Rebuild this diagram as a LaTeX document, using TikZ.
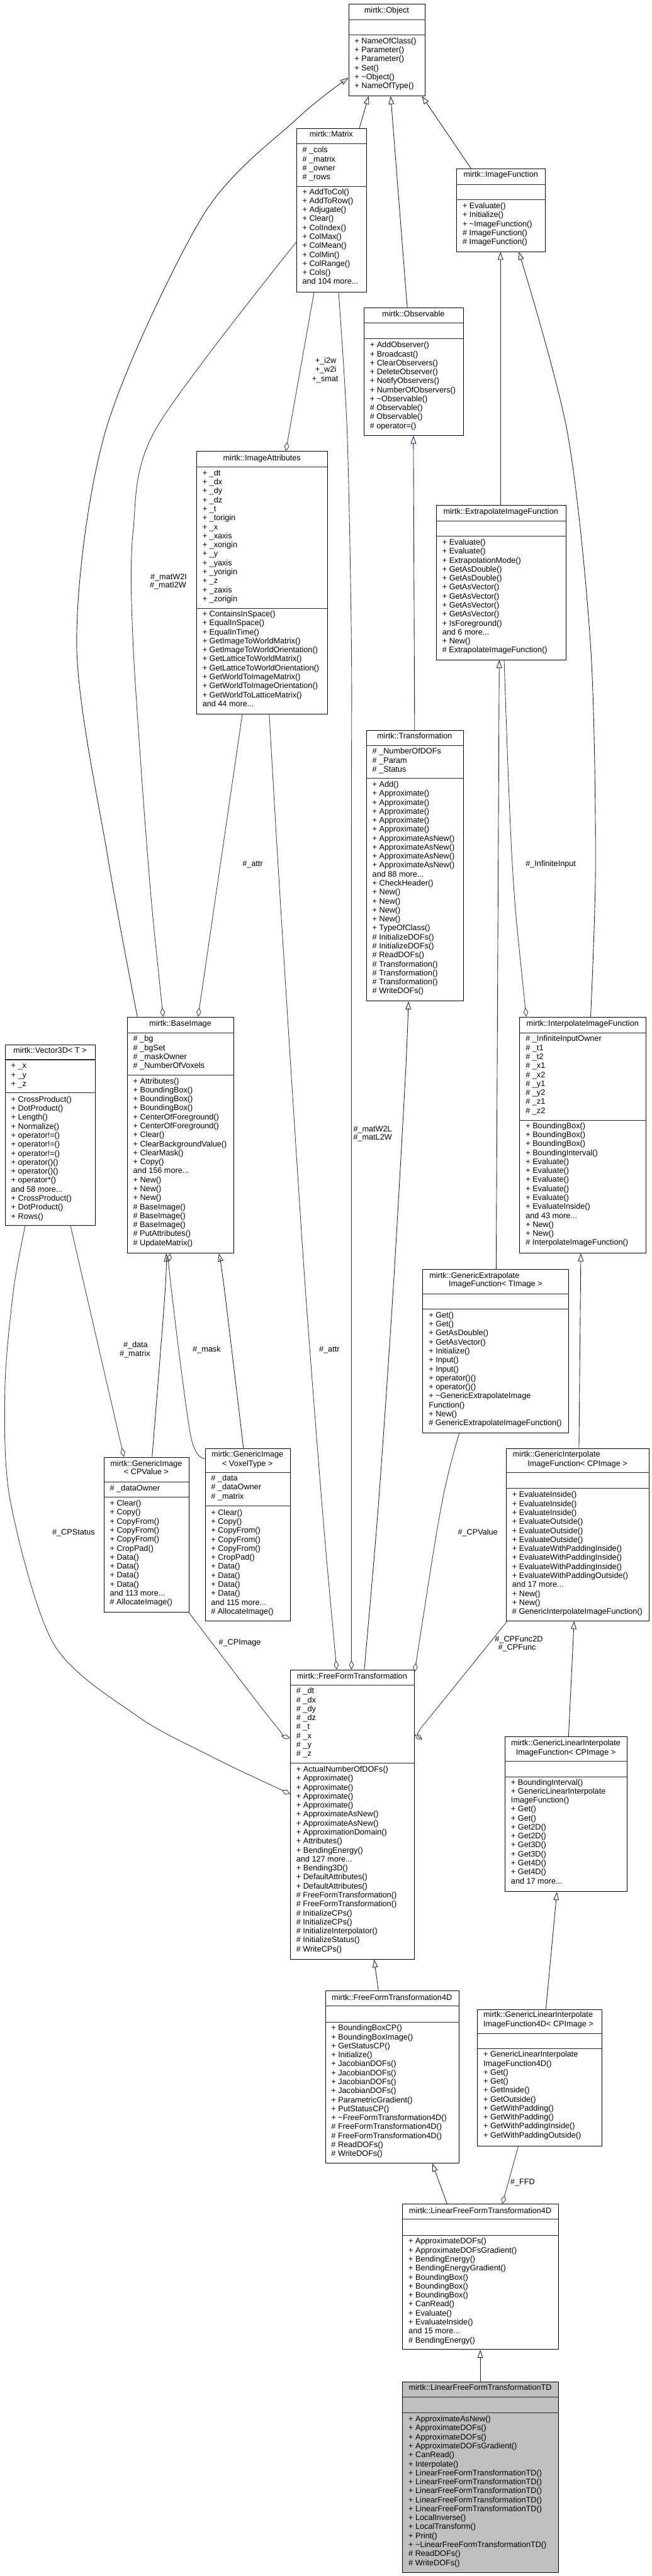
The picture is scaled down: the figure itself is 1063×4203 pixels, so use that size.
\documentclass[tikz,border=0pt]{standalone}
\usepackage{fontspec}
\newfontfamily\dfont{Liberation Sans}
\usetikzlibrary{arrows.meta}
\definecolor{inhblue}{RGB}{25,25,112}
\definecolor{agggray}{RGB}{64,64,64}
\definecolor{leafgray}{RGB}{191,191,191}
\pgfdeclarelayer{back}
\pgfdeclarelayer{bg}
\pgfsetlayers{back,bg,main}
\newcommand\mdots{...}
\newcommand\tl{\textasciitilde}
\newcommand\ubox[6]{\node[cls, fill=#6, minimum width=#4pt, minimum height=#5pt] (#1) at (#2,#3) {};}
\newcommand\usep[2]{\draw[sepl] (#1.west |- 0,#2) -- (#1.east |- 0,#2);}
\newcommand\uitems[4]{\foreach \t [count=\i from 0] in {#4} {\node[itm] (#1\i) at (#2,{#3+\i*14.65}) {\t};}}
\begin{document}
\begin{tikzpicture}[x=1pt,y=-1pt,
  cls/.style={draw=black, line width=1pt, fill=white, inner sep=0pt, anchor=north west},
  sepl/.style={draw=black!85, line width=1.1pt},
  txt/.style={font=\dfont\fontsize{13}{14.65}\selectfont, inner sep=0pt},
  itm/.style={txt, anchor=mid west},
  ttl/.style={txt, anchor=mid},
  elab/.style={txt, anchor=mid},
  inh/.style={draw=inhblue, line width=0.9pt, -{Triangle[open, length=13pt, width=9pt]}},
  agg/.style={draw=agggray, line width=0.9pt, {Diamond[open, length=15pt, width=8pt]}-}]
\begin{pgfonlayer}{back}
\fill[white] (0,0) rectangle (1063,4203);
\end{pgfonlayer}
\useasboundingbox (0,0) rectangle (1063,4203);

% ---------- classes ----------
\ubox{Object}{568}{6}{125}{150}{white}
\node[ttl] (Object-t) at (630.5,19) {mirtk::Object};
\usep{Object}{32}\usep{Object}{57}
\uitems{Object-m}{578}{69}{+ NameOfClass(), + Parameter(), + Parameter(), + Set(), + \tl Object(), + NameOfType()}

\ubox{Matrix}{483}{209}{114}{267}{white}
\node[ttl] (Matrix-t) at (540,221) {mirtk::Matrix};
\usep{Matrix}{234}\usep{Matrix}{304}
\uitems{Matrix-a}{493}{247}{\# \_cols, \# \_matrix, \# \_owner, \# \_rows}
\uitems{Matrix-m}{493}{315}{+ AddToCol(), + AddToRow(), + Adjugate(), + Clear(), + ColIndex(), + ColMax(), + ColMean(), + ColMin(), + ColRange(), + Cols(), and 104 more\mdots}

\ubox{ImageFunction}{744}{275}{145}{135}{white}
\node[ttl] (ImageFunction-t) at (816.5,287) {mirtk::ImageFunction};
\usep{ImageFunction}{301}\usep{ImageFunction}{326}
\uitems{ImageFunction-m}{754}{338}{+ Evaluate(), + Initialize(), + \tl ImageFunction(), \# ImageFunction(), \# ImageFunction()}

\ubox{Observable}{593}{502}{162}{208}{white}
\node[ttl] (Observable-t) at (674,515) {mirtk::Observable};
\usep{Observable}{527}\usep{Observable}{553}
\uitems{Observable-m}{603}{565}{+ AddObserver(), + Broadcast(), + ClearObservers(), + DeleteObserver(), + NotifyObservers(), + NumberOfObservers(), + \tl Observable(), \# Observable(), \# Observable(), \# operator=()}

\ubox{ImageAttributes}{320}{736}{214}{429}{white}
\node[ttl] (ImageAttributes-t) at (427,749) {mirtk::ImageAttributes};
\usep{ImageAttributes}{762}\usep{ImageAttributes}{993}
\uitems{ImageAttributes-a}{330}{774}{+ \_dt, + \_dx, + \_dy, + \_dz, + \_t, + \_torigin, + \_x, + \_xaxis, + \_xorigin, + \_y, + \_yaxis, + \_yorigin, + \_z, + \_zaxis, + \_zorigin}
\uitems{ImageAttributes-m}{330}{1004}{+ ContainsInSpace(), + EqualInSpace(), + EqualInTime(), + GetImageToWorldMatrix(), + GetImageToWorldOrientation(), + GetLatticeToWorldMatrix(), + GetLatticeToWorldOrientation(), + GetWorldToImageMatrix(), + GetWorldToImageOrientation(), + GetWorldToLatticeMatrix(), and 44 more\mdots}

\ubox{Extrap}{711}{824}{211}{252}{white}
\node[ttl] (Extrap-t) at (816.5,837) {mirtk::ExtrapolateImageFunction};
\usep{Extrap}{850}\usep{Extrap}{875}
\uitems{Extrap-m}{721}{887}{+ Evaluate(), + Evaluate(), + ExtrapolationMode(), + GetAsDouble(), + GetAsDouble(), + GetAsVector(), + GetAsVector(), + GetAsVector(), + GetAsVector(), + IsForeground(), and 6 more\mdots, + New(), \# ExtrapolateImageFunction()}

\ubox{Transformation}{597}{1191}{158}{442}{white}
\node[ttl] (Transformation-t) at (676,1203) {mirtk::Transformation};
\usep{Transformation}{1216}\usep{Transformation}{1270}
\uitems{Transformation-a}{607}{1228}{\# \_NumberOfDOFs, \# \_Param, \# \_Status}
\uitems{Transformation-m}{607}{1282}{+ Add(), + Approximate(), + Approximate(), + Approximate(), + Approximate(), + Approximate(), + ApproximateAsNew(), + ApproximateAsNew(), + ApproximateAsNew(), + ApproximateAsNew(), and 88 more\mdots, + CheckHeader(), + New(), + New(), + New(), + New(), + TypeOfClass(), \# InitializeDOFs(), \# InitializeDOFs(), \# ReadDOFs(), \# Transformation(), \# Transformation(), \# Transformation(), \# WriteDOFs()}

\ubox{BaseImage}{207}{1659}{174}{385}{white}
\node[ttl] (BaseImage-t) at (294,1672) {mirtk::BaseImage};
\usep{BaseImage}{1685}\usep{BaseImage}{1754}
\uitems{BaseImage-a}{217}{1697}{\# \_bg, \# \_bgSet, \# \_maskOwner, \# \_NumberOfVoxels}
\uitems{BaseImage-m}{217}{1766}{+ Attributes(), + BoundingBox(), + BoundingBox(), + BoundingBox(), + CenterOfForeground(), + CenterOfForeground(), + Clear(), + ClearBackgroundValue(), + ClearMask(), + Copy(), and 156 more\mdots, + New(), + New(), + New(), \# BaseImage(), \# BaseImage(), \# BaseImage(), \# PutAttributes(), \# UpdateMatrix()}

\ubox{Interp}{847}{1659}{206}{385}{white}
\node[ttl] (Interp-t) at (950,1672) {mirtk::InterpolateImageFunction};
\usep{Interp}{1685}\usep{Interp}{1828}
\uitems{Interp-a}{857}{1697}{\# \_InfiniteInputOwner, \# \_t1, \# \_t2, \# \_x1, \# \_x2, \# \_y1, \# \_y2, \# \_z1, \# \_z2}
\uitems{Interp-m}{857}{1839}{+ BoundingBox(), + BoundingBox(), + BoundingBox(), + BoundingInterval(), + Evaluate(), + Evaluate(), + Evaluate(), + Evaluate(), + Evaluate(), + EvaluateInside(), and 43 more\mdots, + New(), + New(), \# InterpolateImageFunction()}

\ubox{Vector3D}{8}{1704}{147}{295}{white}
\node[ttl] (Vector3D-t) at (81.5,1716) {mirtk::Vector3D< T >};
\usep{Vector3D}{1729}\usep{Vector3D}{1783}
\uitems{Vector3D-a}{18}{1741}{+ \_x, + \_y, + \_z}
\uitems{Vector3D-m}{18}{1796}{+ CrossProduct(), + DotProduct(), + Length(), + Normalize(), + operator!=(), + operator!=(), + operator!=(), + operator()(), + operator()(), + operator*(), and 58 more\mdots, + CrossProduct(), + DotProduct(), + Rows()}

\ubox{GenExtrap}{689}{2071}{238}{266}{white}
\node[itm] (GenExtrap-t1) at (700,2083) {mirtk::GenericExtrapolate};
\node[ttl] (GenExtrap-t2) at (808,2097) {ImageFunction< TImage >};
\usep{GenExtrap}{2111}\usep{GenExtrap}{2136}
\uitems{GenExtrap-m}{699}{2148}{+ Get(), + Get(), + GetAsDouble(), + GetAsVector(), + Initialize(), + Input(), + Input(), + operator()(), + operator()(), + \tl GenericExtrapolateImage, Function(), + New(), \# GenericExtrapolateImageFunction()}

\ubox{GenImgCP}{169}{2377}{139}{253}{white}
\node[ttl] (GenImgCP-t1) at (238.5,2390) {mirtk::GenericImage};
\node[ttl] (GenImgCP-t2) at (238.5,2404) {< CPValue >};
\usep{GenImgCP}{2418}\usep{GenImgCP}{2443}
\uitems{GenImgCP-a}{179}{2430}{\# \_dataOwner}
\uitems{GenImgCP-m}{179}{2455}{+ Clear(), + Copy(), + CopyFrom(), + CopyFrom(), + CopyFrom(), + CropPad(), + Data(), + Data(), + Data(), + Data(), and 113 more\mdots, \# AllocateImage()}

\ubox{GenImgVT}{334}{2363}{139}{281}{white}
\node[ttl] (GenImgVT-t1) at (403.5,2375) {mirtk::GenericImage};
\node[ttl] (GenImgVT-t2) at (403.5,2390) {< VoxelType >};
\usep{GenImgVT}{2403}\usep{GenImgVT}{2457}
\uitems{GenImgVT-a}{344}{2414}{\# \_data, \# \_dataOwner, \# \_matrix}
\uitems{GenImgVT-m}{344}{2470}{+ Clear(), + Copy(), + CopyFrom(), + CopyFrom(), + CopyFrom(), + CropPad(), + Data(), + Data(), + Data(), + Data(), and 115 more\mdots, \# AllocateImage()}

\ubox{GenInterp}{825}{2363}{233}{281}{white}
\node[itm] (GenInterp-t1) at (836,2375) {mirtk::GenericInterpolate};
\node[ttl] (GenInterp-t2) at (941.5,2390) {ImageFunction< CPImage >};
\usep{GenInterp}{2403}\usep{GenInterp}{2428}
\uitems{GenInterp-m}{835}{2441}{+ EvaluateInside(), + EvaluateInside(), + EvaluateInside(), + EvaluateOutside(), + EvaluateOutside(), + EvaluateOutside(), + EvaluateWithPaddingInside(), + EvaluateWithPaddingInside(), + EvaluateWithPaddingInside(), + EvaluateWithPaddingOutside(), and 17 more\mdots, + New(), + New(), \# GenericInterpolateImageFunction()}

\ubox{FFT}{473}{2724}{202}{472}{white}
\node[ttl] (FFT-t) at (574,2737) {mirtk::FreeFormTransformation};
\usep{FFT}{2749}\usep{FFT}{2877}
\uitems{FFT-a}{483}{2761}{\# \_dt, \# \_dx, \# \_dy, \# \_dz, \# \_t, \# \_x, \# \_y, \# \_z}
\uitems{FFT-m}{483}{2889}{+ ActualNumberOfDOFs(), + Approximate(), + Approximate(), + Approximate(), + Approximate(), + ApproximateAsNew(), + ApproximateAsNew(), + ApproximationDomain(), + Attributes(), + BendingEnergy(), and 127 more\mdots, + Bending3D(), + DefaultAttributes(), + DefaultAttributes(), \# FreeFormTransformation(), \# FreeFormTransformation(), \# InitializeCPs(), \# InitializeCPs(), \# InitializeInterpolator(), \# InitializeStatus(), \# WriteCPs()}

\ubox{GenLin}{823}{2833}{199}{253}{white}
\node[ttl] (GenLin-t1) at (922.5,2846) {mirtk::GenericLinearInterpolate};
\node[ttl] (GenLin-t2) at (922.5,2861) {ImageFunction< CPImage >};
\usep{GenLin}{2874}\usep{GenLin}{2899}
\uitems{GenLin-m}{833}{2910}{+ BoundingInterval(), + GenericLinearInterpolate, ImageFunction(), + Get(), + Get(), + Get2D(), + Get2D(), + Get3D(), + Get3D(), + Get4D(), + Get4D(), and 17 more\mdots}

\ubox{FFT4D}{530}{3248}{218}{281}{white}
\node[ttl] (FFT4D-t) at (639,3261) {mirtk::FreeFormTransformation4D};
\usep{FFT4D}{3273}\usep{FFT4D}{3299}
\uitems{FFT4D-m}{540}{3311}{+ BoundingBoxCP(), + BoundingBoxImage(), + GetStatusCP(), + Initialize(), + JacobianDOFs(), + JacobianDOFs(), + JacobianDOFs(), + JacobianDOFs(), + ParametricGradient(), + PutStatusCP(), + \tl FreeFormTransformation4D(), \# FreeFormTransformation4D(), \# FreeFormTransformation4D(), \# ReadDOFs(), \# WriteDOFs()}

\ubox{GenLin4D}{778}{3278}{203}{223}{white}
\node[itm] (GenLin4D-t1) at (788,3289) {mirtk::GenericLinearInterpolate};
\node[itm] (GenLin4D-t2) at (788,3304) {ImageFunction4D< CPImage >};
\usep{GenLin4D}{3318}\usep{GenLin4D}{3343}
\uitems{GenLin4D-m}{788}{3354}{+ GenericLinearInterpolate, ImageFunction4D(), + Get(), + Get(), + GetInside(), + GetOutside(), + GetWithPadding(), + GetWithPadding(), + GetWithPaddingInside(), + GetWithPaddingOutside()}

\ubox{LinFFT4D}{656}{3596}{254}{237}{white}
\node[ttl] (LinFFT4D-t) at (783,3609) {mirtk::LinearFreeFormTransformation4D};
\usep{LinFFT4D}{3621}\usep{LinFFT4D}{3647}
\uitems{LinFFT4D-m}{666}{3659}{+ ApproximateDOFs(), + ApproximateDOFsGradient(), + BendingEnergy(), + BendingEnergyGradient(), + BoundingBox(), + BoundingBox(), + BoundingBox(), + CanRead(), + Evaluate(), + EvaluateInside(), and 15 more\mdots, \# BendingEnergy()}

\ubox{LinFFTTD}{656}{3886}{254}{311}{leafgray}
\node[ttl] (LinFFTTD-t) at (783,3898) {mirtk::LinearFreeFormTransformationTD};
\usep{LinFFTTD}{3911}\usep{LinFFTTD}{3937}
\uitems{LinFFTTD-m}{666}{3949}{+ ApproximateAsNew(), + ApproximateDOFs(), + ApproximateDOFs(), + ApproximateDOFsGradient(), + CanRead(), + Interpolate(), + LinearFreeFormTransformationTD(), + LinearFreeFormTransformationTD(), + LinearFreeFormTransformationTD(), + LinearFreeFormTransformationTD(), + LinearFreeFormTransformationTD(), + LocalInverse(), + LocalTransform(), + Print(), + \tl LinearFreeFormTransformationTD(), \# ReadDOFs(), \# WriteDOFs()}

% ---------- connectors ----------
\begin{pgfonlayer}{bg}
% inheritance
\draw[inh] (586,0 |- Matrix.north) -- (601,0 |- Object.south);
\draw[inh] (664,0 |- Observable.north) -- (637,0 |- Object.south);
\draw[inh] (768,0 |- ImageFunction.north) -- (688,0 |- Object.south);
\draw[inh] plot[smooth] coordinates {(224,0 |- BaseImage.north) (176,1400) (125,1050) (173,700) (332,350) (485,193) (Object.west |- 0,127)};
\draw[inh] (816,0 |- Extrap.north) -- (816,0 |- ImageFunction.south);
\draw[inh] plot[smooth] coordinates {(963,0 |- Interp.north) (971,1405) (963,1055) (925,705) (846,0 |- ImageFunction.south)};
\draw[inh] (676,0 |- Transformation.north) -- (674,0 |- Observable.south);
\draw[inh] plot[smooth] coordinates {(594,0 |- FFT.north) (617,2455) (641,2105) (661,1755) (666,0 |- Transformation.south)};
\draw[inh] (809,0 |- GenExtrap.north) -- (814,0 |- Extrap.south);
\draw[inh] (944,0 |- GenInterp.north) -- (947,0 |- Interp.south);
\draw[inh] plot[smooth] coordinates {(248,0 |- GenImgCP.north) (269,2110) (271,0 |- BaseImage.south)};
\draw[inh] plot[smooth] coordinates {(397,0 |- GenImgVT.north) (366,2105) (357,0 |- BaseImage.south)};
\draw[inh] (927,0 |- GenLin.north) -- (936,0 |- GenInterp.south);
\draw[inh] (890,0 |- GenLin4D.north) -- (908,0 |- GenLin.south);
\draw[inh] (617,0 |- FFT4D.north) -- (610,0 |- FFT.south);
\draw[inh] (729,0 |- LinFFT4D.north) -- (705,0 |- FFT4D.south);
\draw[inh] (783,0 |- LinFFTTD.north) -- (783,0 |- LinFFT4D.south);
% aggregation
\draw[agg] (466,0 |- ImageAttributes.north) -- (512,0 |- Matrix.south);
\draw[agg] plot[smooth] coordinates {(266,0 |- BaseImage.north) (241,1400) (217,1050) (217,867) (254,700) (Matrix.west |- 0,395)};
\draw[agg] (323,0 |- BaseImage.north) -- (395,0 |- ImageAttributes.south);
\draw[agg] plot[smooth] coordinates {(549,0 |- FFT.north) (525,2455) (498,2105) (475,1755) (453,1405) (439,0 |- ImageAttributes.south)};
\draw[agg] plot[smooth] coordinates {(573,0 |- FFT.north) (573,1400) (573,1055) (566,705) (552,0 |- Matrix.south)};
\draw[agg] plot[smooth] coordinates {(858,0 |- Interp.north) (835,1405) (822,0 |- Extrap.south)};
\draw[agg] plot[smooth] coordinates {(278,0 |- BaseImage.south) (279,2100) (311,2343) (GenImgVT.west |- 0,2380)};
\draw[agg] (202,0 |- GenImgCP.north) -- (115,0 |- Vector3D.south);
\draw[agg] plot[smooth] coordinates {(FFT.west |- 0,2927) (339,2863) (224,2800) (88,2683) (17,2450) (8,2267) (22,2105) (41,0 |- Vector3D.south)};
\draw[agg] plot[smooth] coordinates {(FFT.west |- 0,2836) (441,2805) (308,0 |- GenImgCP.south)};
\draw[agg] plot[smooth] coordinates {(FFT.east |- 0,2728) (721,2450) (749,0 |- GenExtrap.south)};
\draw[agg] plot[smooth] coordinates {(FFT.east |- 0,2830) (698,2805) (827,0 |- GenInterp.south)};
\draw[agg] (819,0 |- LinFFT4D.north) -- (845,0 |- GenLin4D.south);
\end{pgfonlayer}

% ---------- connector labels ----------
\node[elab] (l-i2w) at (531,590) {+\_i2w};
\node[elab] (l-w2i) at (531,605) {+\_w2i};
\node[elab] (l-smat) at (530,620) {+\_smat};
\node[elab] (l-matW2I) at (275,943) {\#\_matW2I};
\node[elab] (l-matI2W) at (274,957) {\#\_matI2W};
\node[elab] (l-attr1) at (412,1411) {\#\_attr};
\node[elab] (l-attr2) at (537,2203) {\#\_attr};
\node[itm] (l-matW2L) at (576,1844) {\#\_matW2L};
\node[itm] (l-matL2W) at (576,1858) {\#\_matL2W};
\node[elab] (l-inf) at (898,1411) {\#\_InfiniteInput};
\node[elab] (l-mask) at (337,2203) {\#\_mask};
\node[elab] (l-data) at (221,2196) {\#\_data};
\node[elab] (l-matrix) at (220,2211) {\#\_matrix};
\node[elab] (l-cpstatus) at (120,2502) {\#\_CPStatus};
\node[elab] (l-cpimage) at (391,2682) {\#\_CPImage};
\node[elab] (l-cpvalue) at (779,2502) {\#\_CPValue};
\node[elab] (l-cpfunc2d) at (846,2676) {\#\_CPFunc2D};
\node[elab] (l-cpfunc) at (843,2690) {\#\_CPFunc};
\node[elab] (l-ffd) at (852,3562) {\#\_FFD};
\end{tikzpicture}
\end{document}
